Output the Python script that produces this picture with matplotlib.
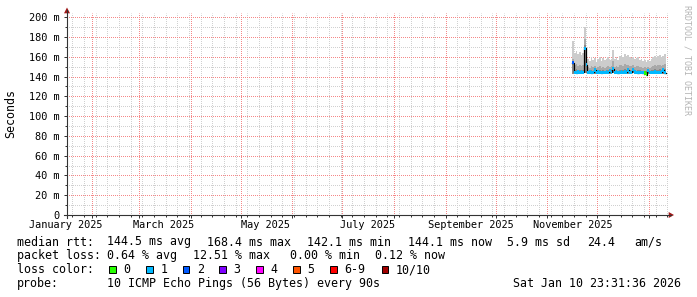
import numpy as np
import matplotlib
matplotlib.use("Agg")
import matplotlib.pyplot as plt
from matplotlib.patches import Rectangle, Polygon
from matplotlib.lines import Line2D
import matplotlib.transforms as mtransforms

# ---------------- data ----------------
epoch = "2025-01-01"
first_sample_day = "2025-11-16"     # first consolidated (daily) sample with data

max_ms = [176, 164, 166, 163, 165, 162, 164, 190, 168, 158,
          156, 160, 157, 159, 155, 158, 160, 156, 159, 157,
          158, 160, 157, 158, 167, 158, 160, 157, 161, 162,
          160, 163, 161, 162, 160, 159, 160, 158, 159, 160,
          157, 158, 156, 157, 155, 157, 156, 158, 160, 161,
          159, 161, 162, 160, 161, 163]
hi2_ms = [158, 152, 153, 151, 152, 151, 152, 178, 158, 150,
          149, 151, 150, 151, 149, 150, 151, 149, 150, 149,
          150, 151, 150, 151, 156, 150, 151, 150, 152, 152,
          151, 153, 152, 152, 151, 151, 152, 150, 151, 151,
          150, 150, 149, 150, 149, 150, 149, 150, 151, 152,
          151, 152, 152, 151, 152, 153]
hi1_ms = [155, 147, 148, 147, 147, 146, 147, 172, 154, 146,
          146, 147, 146, 148, 146, 147, 147, 146, 147, 146,
          146, 147, 148, 147, 150, 146, 147, 146, 147, 147,
          147, 148, 147, 148, 147, 146, 148, 147, 146, 147,
          147, 146, 146, 146, 146, 148, 146, 147, 147, 148,
          147, 147, 148, 147, 148, 148]
median_ms = [154.0, 144.3, 144.0, 144.5, 144.2, 144.6, 144.4, 168.4, 152.0, 144.2,
             144.5, 144.1, 144.3, 146.5, 144.2, 144.6, 144.3, 144.0, 144.4, 144.2,
             144.5, 144.3, 146.0, 144.4, 148.0, 144.3, 144.5, 144.1, 144.4, 144.6,
             144.2, 144.5, 144.3, 146.5, 144.4, 144.2, 147.0, 144.5, 144.3, 144.1,
             144.4, 144.2, 144.0, 143.8, 142.1, 146.0, 144.2, 144.4, 144.3, 144.5,
             144.2, 144.4, 144.3, 144.6, 146.5, 144.1]
min_ms = [143.0, 142.7, 142.5, 142.9, 142.6, 143.0, 142.8, 144.0, 143.2, 142.6,
          142.9, 142.5, 142.7, 143.1, 142.6, 143.0, 142.7, 142.4, 142.8, 142.6,
          142.9, 142.7, 142.8, 142.8, 143.5, 142.7, 142.9, 142.5, 142.8, 143.0,
          142.6, 142.9, 142.7, 143.0, 142.8, 142.6, 143.2, 142.9, 142.7, 142.5,
          142.8, 142.6, 142.4, 142.2, 140.8, 143.0, 142.6, 142.8, 142.7, 142.9,
          142.6, 142.8, 142.7, 143.0, 143.1, 142.5]
loss_pct = [12.51, 0.8, 0.5, 0.7, 0.4, 0.9, 0.6, 1.2, 0.9, 0.5,
            0.6, 0.4, 0.7, 0.8, 0.5, 0.6, 0.4, 0.7, 0.5, 0.6,
            0.4, 0.5, 0.8, 0.6, 1.0, 0.5, 0.4, 0.6, 0.5, 0.7,
            0.4, 0.5, 0.6, 0.8, 0.5, 0.4, 0.9, 0.5, 0.6, 0.4,
            0.5, 0.3, 0.4, 0.0, 0.0, 0.5, 0.3, 0.4, 0.5, 0.3,
            0.4, 0.5, 0.3, 0.4, 0.6, 0.12]

y_ticks = [0, 20, 40, 60, 80, 100, 120, 140, 160, 180, 200]
y_tick_labels = ["0", "20 m", "40 m", "60 m", "80 m", "100 m",
                 "120 m", "140 m", "160 m", "180 m", "200 m"]
month_labels = ["January 2025", "March 2025", "May 2025",
                "July 2025", "September 2025", "November 2025"]
month_label_dates = ["2025-01-16", "2025-03-16", "2025-05-16",
                     "2025-07-16", "2025-09-16", "2025-11-16"]

loss_names = ["0", "1", "2", "3", "4", "5", "6-9", "10/10"]
loss_colors = ["#26ff00", "#00b8ff", "#0059ff", "#7e00ff",
               "#ff00ff", "#ff5500", "#ff0000", "#a10000"]
loss_upper_pings = [0, 1, 2, 3, 4, 5, 9, 10]   # upper bound of lost pings (of 10)

rtt_stats = ["144.5 ms avg", "168.4 ms max", "142.1 ms min",
             "144.1 ms now", "5.9 ms sd", "24.4", "am/s"]
loss_stats = ["0.64 % avg", "12.51 % max", "0.00 % min", "0.12 % now"]
probe_text = "10 ICMP Echo Pings (56 Bytes) every 90s"
timestamp = "Sat Jan 10 23:31:36 2026"

# ---------------- layout ----------------
W, H, DPI = 697, 297, 100
MONO = "DejaVu Sans Mono"
FS_LEG = 8.4
FS_AX = 7.35


def day(s):
    return float((np.datetime64(s, "D") - np.datetime64(epoch, "D")).astype(int))


def fx(px):
    return px / W


def fy(py):
    return 1 - py / H


fig = plt.figure(figsize=(W / DPI, H / DPI), dpi=DPI, facecolor="white")
ax_left, ax_right, ax_top, ax_bot = 67, 669, 13.3, 215
ax = fig.add_axes([fx(ax_left), fy(ax_bot), (ax_right - ax_left) / W,
                   (ax_bot - ax_top) / H])
ax.set_facecolor("white")
ax.set_xlim(15.9, 376.9)
ax.set_ylim(0, 204)
for s in ax.spines.values():
    s.set_visible(False)

# grid (dotted, 1px on / 1px off)
grid_ls = (0.5, (1, 1))
mondays = np.arange(np.datetime64("2025-01-20"), np.datetime64("2026-01-13"),
                    np.timedelta64(7, "D"))
monday_days = (mondays - np.datetime64(epoch, "D")).astype(int)
month_starts = np.arange(np.datetime64("2025-02"), np.datetime64("2026-02"),
                         np.timedelta64(1, "M")).astype("datetime64[D]")
month_days = (month_starts - np.datetime64(epoch, "D")).astype(int)
gkw = dict(lw=0.72, ls=grid_ls, snap=True)
for d in monday_days:
    ax.axvline(d, color="#d0d0d0", zorder=0, **gkw)
for v in range(10, 200, 20):
    ax.axhline(v, color="#d0d0d0", zorder=0, **gkw)
for d in month_days:
    ax.axvline(d, color="#f58888", zorder=0.5, **gkw)
for v in y_ticks[1:]:
    ax.axhline(v, color="#f58888", zorder=0.5, **gkw)

# smoke
n = len(median_ms)
xs = day(first_sample_day) + np.arange(n)
mn = np.array(min_ms)
ax.bar(xs, np.array(max_ms) - mn, bottom=mn, width=1, align="edge",
       color="#cccccc", lw=0, antialiased=False, zorder=2)
ax.bar(xs, np.array(hi2_ms) - mn, bottom=mn, width=1, align="edge",
       color="#a9a9a9", lw=0, antialiased=False, zorder=2.1)
ax.bar(xs, np.array(hi1_ms) - mn, bottom=mn, width=1, align="edge",
       color="#888888", lw=0, antialiased=False, zorder=2.2)

# median line
med = np.array(median_ms)
ax.step(np.append(xs, xs[-1] + 1), np.append(med, med[-1]), where="post",
        color="black", lw=0.9, zorder=3)

# loss-coloured median band
lost = np.array(loss_pct) / 10.0
idx = np.searchsorted(loss_upper_pings, lost, side="left")
band_cols = [loss_colors[i] for i in idx]
half = 1.7
ax.bar(xs, 2 * half, bottom=med - half, width=1, align="edge",
       color=band_cols, lw=0, antialiased=False, zorder=4)

# ticks
ax.set_yticks(y_ticks, y_tick_labels)
ax.set_yticks(list(range(10, 200, 20)), minor=True)
ax.set_xticks(month_days)
ax.set_xticks(monday_days, minor=True)
ax.set_xticklabels([])
ax.tick_params(axis="y", which="major", length=2.2, width=0.72, color="#333333",
               pad=2.9, labelsize=FS_AX, labelfontfamily=MONO)
ax.tick_params(axis="y", which="minor", length=1.4, width=0.72, color="#333333")
ax.tick_params(axis="x", which="major", length=2.2, width=0.72, color="#333333")
ax.tick_params(axis="x", which="minor", length=1.4, width=0.72, color="#333333")

# month labels
lab_tr = mtransforms.offset_copy(
    mtransforms.blended_transform_factory(ax.transData, ax.transAxes),
    fig=fig, y=-13.3, units="dots")
for lab, d in zip(month_labels, month_label_dates):
    ax.text(day(d), 0, lab, transform=lab_tr, ha="center", va="baseline",
            fontsize=FS_AX, family=MONO, clip_on=False)

# axes lines and arrows
axis_col = "#333333"
fig.add_artist(Line2D([fx(67), fx(67)], [fy(218), fy(10)], color=axis_col,
                      lw=0.8, transform=fig.transFigure))
fig.add_artist(Line2D([fx(64), fx(671)], [fy(215), fy(215)], color=axis_col,
                      lw=0.8, transform=fig.transFigure))
arrow_col = "#a01818"
fig.add_artist(Polygon([[fx(64), fy(13.3)], [fx(70), fy(13.3)], [fx(67), fy(7.5)]],
                       closed=True, color=arrow_col, lw=0, transform=fig.transFigure))
fig.add_artist(Polygon([[fx(668.7), fy(212)], [fx(668.7), fy(218)], [fx(674), fy(215)]],
                       closed=True, color=arrow_col, lw=0, transform=fig.transFigure))

# y label
fig.text(fx(10.5), fy(114), "Seconds", rotation=90, ha="center", va="center",
         fontsize=FS_LEG, family=MONO)
# watermark
fig.text(fx(687), fy(60), "RRDTOOL / TOBI OETIKER", rotation=270, ha="center",
         va="center", fontsize=6.0, family=MONO, color="#b4b4b4")


def leg(px, base, s, **kw):
    fig.text(fx(px), fy(base), s, ha="left", va="baseline", fontsize=FS_LEG,
             family=MONO, **kw)


# row 1
leg(16.7, 245.5, "median rtt:")
for s, px in zip(rtt_stats, [107.3, 207.3, 306.7, 407.7, 506.7, 586.7, 634.5]):
    leg(px, 245.5, s)
# row 2
leg(16.7, 259.3, "packet loss:")
for s, px in zip(loss_stats, [107.3, 193.3, 290.0, 375.0]):
    leg(px, 259.3, s)
# row 3
leg(16.7, 273.3, "loss color:")
box_x = [109, 146, 182.7, 219.3, 256, 293.3, 330, 381.7]
for name, col, bx in zip(loss_names, loss_colors, box_x):
    fig.add_artist(Rectangle((fx(bx), fy(272.6)), 6.6 / W, 6.6 / H,
                             facecolor=col, edgecolor="black", lw=0.7,
                             transform=fig.transFigure))
    leg(bx + 14.3, 273.3, name)
# row 4
leg(16.7, 287.0, "probe:")
leg(107.3, 287.0, probe_text)
leg(513.3, 287.0, timestamp)

fig.savefig("out.png", dpi=DPI, facecolor="white")
